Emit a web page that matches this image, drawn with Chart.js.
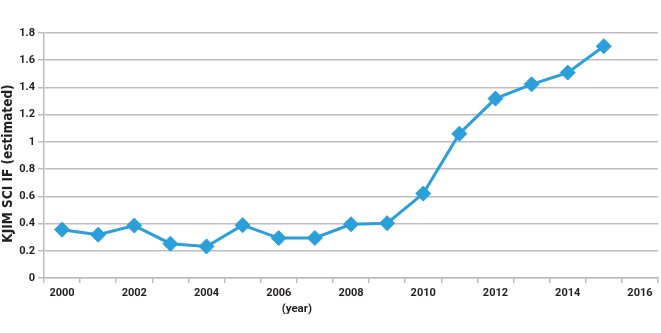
<!DOCTYPE html>
<html>
<head>
<meta charset="utf-8">
<script src="https://cdn.jsdelivr.net/npm/chart.js@4/dist/chart.umd.min.js"></script>
<style>
  html, body { margin: 0; padding: 0; background: #fff; overflow: hidden; }
  canvas { display: block; }
</style>
</head>
<body>
<canvas id="ifChart" width="661" height="333"></canvas>
<script>
// Years on the x axis (2016 has no value yet)
const years = ['2000', '2001', '2002', '2003', '2004', '2005', '2006', '2007', '2008',
  '2009', '2010', '2011', '2012', '2013', '2014', '2015', '2016'];
// Estimated SCI impact factor per year
const impactFactor = [0.355, 0.318, 0.385, 0.252, 0.232, 0.388, 0.293, 0.294, 0.395,
  0.403, 0.62, 1.06, 1.318, 1.423, 1.509, 1.703, null];
const yTicks = [0, 0.2, 0.4, 0.6, 0.8, 1, 1.2, 1.4, 1.6, 1.8];

const FONT = 'Roboto, "DejaVu Sans Condensed", sans-serif';
const TITLE_FONT = '"DejaVu Sans Condensed", "DejaVu Sans", sans-serif';
const TEXT = '#231f20';
const GRID = '#bdbdbd';
const BLUE = '#2b9fda';

// Axis titles: "(year)" sits under the 2006/2007 pair, the y title a bit below centre
const axisTitles = {
  id: 'axisTitles',
  afterDraw(chart) {
    const x = chart.scales.x;
    const y = chart.scales.y;
    const ctx = chart.ctx;
    ctx.save();
    ctx.fillStyle = TEXT;
    ctx.textAlign = 'center';
    ctx.textBaseline = 'middle';

    ctx.font = 'bold 11.5px ' + FONT;
    const cx = (x.getPixelForValue(6) + x.getPixelForValue(7)) / 2;
    ctx.fillText('(year)', cx, x.bottom - 24);

    ctx.font = 'bold 13.5px ' + TITLE_FONT;
    ctx.translate(8, (y.top + y.bottom) / 2 + 8);
    ctx.rotate(-Math.PI / 2);
    ctx.fillText('KJIM SCI IF (estimated)', 0, 0);
    ctx.restore();
  }
};

new Chart(document.getElementById('ifChart'), {
  type: 'line',
  data: {
    labels: years,
    datasets: [{
      data: impactFactor,
      borderColor: BLUE,
      backgroundColor: BLUE,
      borderWidth: 3,
      tension: 0,
      pointStyle: 'rectRot',
      pointRadius: 7.5,
      pointBorderWidth: 1,
      pointBorderColor: BLUE,
      pointBackgroundColor: BLUE
    }]
  },
  options: {
    responsive: false,
    animation: false,
    layout: {
      autoPadding: false,
      padding: { top: 33, right: 3, left: 0, bottom: 0 }
    },
    plugins: {
      legend: { display: false },
      tooltip: { enabled: false }
    },
    scales: {
      x: {
        type: 'category',
        offset: true,
        afterFit: s => { s.height = 55; },
        grid: {
          offset: true,
          drawOnChartArea: false,
          color: GRID,
          lineWidth: 1.5,
          tickLength: 5
        },
        border: { color: GRID, width: 1.5 },
        ticks: {
          autoSkip: false,
          maxRotation: 0,
          padding: 4,
          color: TEXT,
          font: { family: FONT, size: 11, weight: 'bold' },
          callback: (v, i) => (i % 2 ? '' : years[i])
        }
      },
      y: {
        min: 0,
        max: 1.8,
        afterFit: s => { s.width = 44; },
        afterBuildTicks: s => { s.ticks = yTicks.map(v => ({ value: v })); },
        grid: { color: GRID, lineWidth: 1.5, tickLength: 6 },
        border: { color: GRID, width: 1.5 },
        ticks: {
          padding: 3,
          color: TEXT,
          font: { family: FONT, size: 11, weight: 'bold' },
          callback: v => String(Math.round(v * 10) / 10)
        }
      }
    }
  },
  plugins: [axisTitles]
});
</script>
</body>
</html>
